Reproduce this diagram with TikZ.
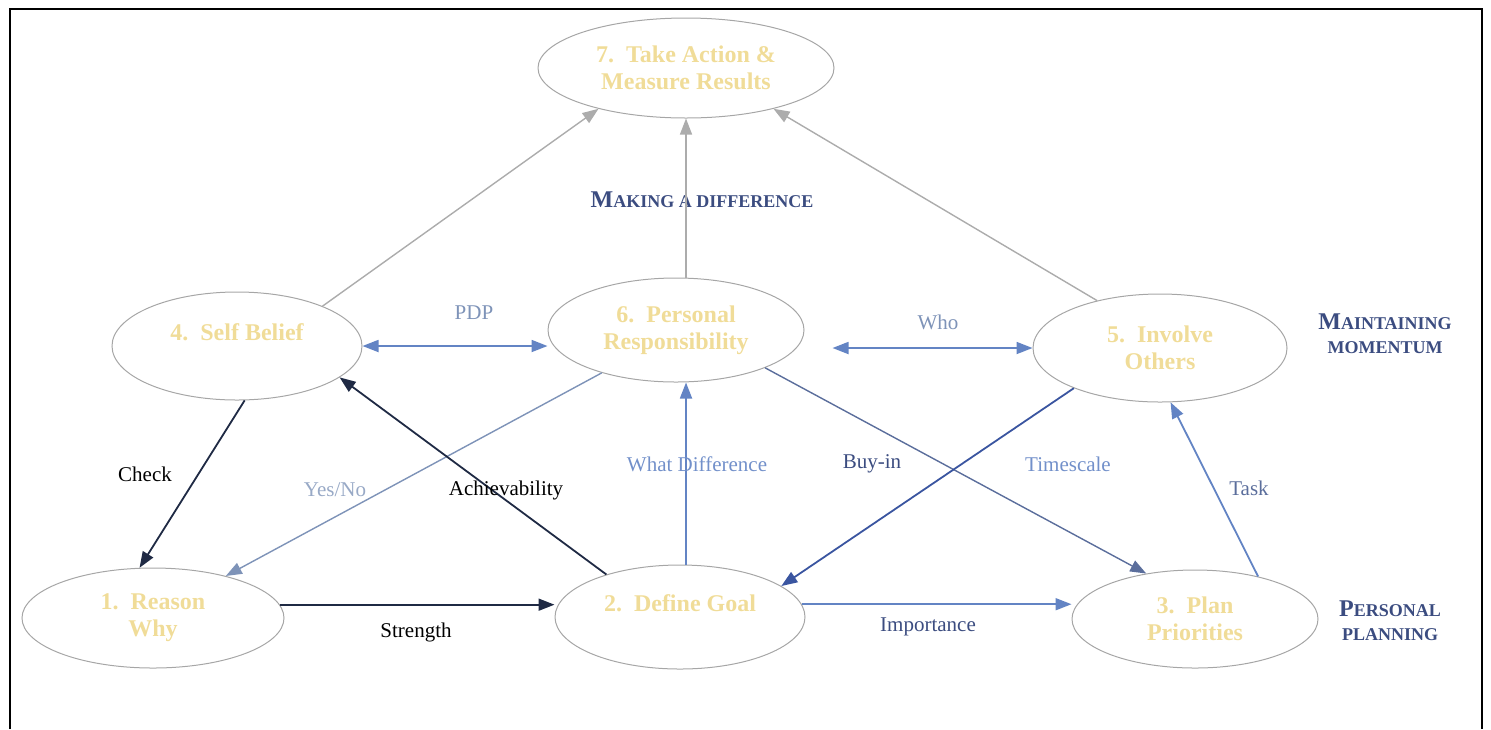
\documentclass[tikz,border=0pt]{standalone}
\usepackage{fontspec}
\setmainfont{Liberation Serif}
\usetikzlibrary{arrows.meta,shapes.geometric}

\definecolor{stagetext}{HTML}{F0DC98}
\definecolor{headblue}{HTML}{3B4C80}
\definecolor{lightblue}{HTML}{6384C4}
\definecolor{navy}{HTML}{1F2A44}
\definecolor{steel}{HTML}{7E93B8}
\definecolor{slate}{HTML}{5B6E9C}
\definecolor{midblue}{HTML}{3A55A0}
\newcommand{\capsword}[2]{{\fontsize{12}{14}\selectfont #1}{\fontsize{9}{14}\selectfont #2}}

\begin{document}
\begin{tikzpicture}[x=0.5pt, y=-0.5pt, >={Triangle[length=8pt,width=6pt]},
  stage/.style={ellipse, draw=gray!70, line width=0.5pt, inner sep=0pt, align=center,
    text=stagetext, font=\fontsize{12}{13.5}\selectfont\bfseries},
  lbl/.style={font=\fontsize{10.5}{12}\selectfont},
  head/.style={text=headblue, font=\bfseries, align=center},
  grayline/.style={->, draw=gray!65, fill=gray!65, line width=0.7pt},
  blueline/.style={draw=lightblue, fill=lightblue, line width=0.9pt}]
  \useasboundingbox (0,0) rectangle (1491,729);
  \draw[line width=1.2pt] (10,729) -- (10,9) -- (1482,9) -- (1482,729);

  % stages
  \node[stage, minimum width=148pt, minimum height=50pt] (act) at (686,68) {7.~~Take Action \&\\Measure Results};
  \node[stage, minimum width=125pt, minimum height=54pt] (belief) at (237,346) {4.~~Self Belief\\~};
  \node[stage, minimum width=128pt, minimum height=52pt] (resp) at (676,330) {6.~~Personal\\Responsibility};
  \node[stage, minimum width=127pt, minimum height=54pt] (others) at (1160,348) {5.~~Involve\\Others};
  \node[stage, minimum width=131pt, minimum height=50pt] (reason) at (153,618) {1.~~Reason\\Why};
  \node[stage, minimum width=125pt, minimum height=52pt] (goal) at (680,617) {2.~~Define Goal\\~};
  \node[stage, minimum width=123pt, minimum height=49pt] (plan) at (1195,619) {3.~~Plan\\Priorities};

  % headings
  \node[head] (hmake) at (702,200) {\capsword{M}{AKING A DIFFERENCE}};
  \node[head] (hmaint) at (1385,334) {\capsword{M}{AINTAINING}\\\capsword{}{MOMENTUM}};
  \node[head] (hpers) at (1390,621) {\capsword{P}{ERSONAL}\\\capsword{}{PLANNING}};

  % arrows
  \draw[grayline] (belief.25) -- (act.205);
  \draw[grayline] (resp.north -| act) -- (act.south);
  \draw[grayline] (others.143) -- (act.335);
  \draw[<->, blueline] (belief.east) -- (belief.east -| resp.west);
  \draw[<->, blueline, shorten <=14pt] (resp.east |- others.west) -- (others.west);
  \draw[->, draw=navy, fill=navy, line width=0.9pt] (belief.278) -- (reason.105);
  \draw[->, draw=steel, fill=steel, line width=0.7pt] (resp.210) -- (reason.30);
  \draw[->, draw=navy, fill=navy, line width=0.9pt] (goal.150) -- (belief.343);
  \draw[->, blueline] (goal.north -| act) -- (resp.south -| act);
  \draw[->, draw=slate, fill=slate, line width=0.7pt] (resp.337) -- (plan.137);
  \draw[->, draw=midblue, fill=midblue, line width=0.9pt] (others.205) -- (goal.17);
  \draw[->, blueline] (plan.34) -- (others.281);
  \draw[->, draw=navy, fill=navy, line width=0.9pt] (reason.6) -- (reason.6 -| goal.west);
  \draw[->, blueline] (goal.6) -- (goal.6 -| plan.west);

  % arrow labels
  \node[lbl, text=steel] (lpdp) at (474,313) {PDP};
  \node[lbl, text=steel] (lwho) at (938,322) {Who};
  \node[lbl] (lcheck) at (145,474) {Check};
  \node[lbl, text=steel!80] (lyesno) at (335,490) {Yes/No};
  \node[lbl] (lachieve) at (506,490) {Achievability};
  \node[lbl, text=lightblue!90] (lwhat) at (697,464) {What Difference};
  \node[lbl, text=headblue] (lbuyin) at (872,464) {Buy-in};
  \node[lbl, text=lightblue!90] (ltime) at (1068,464) {Timescale};
  \node[lbl, text=slate] (ltask) at (1249,488) {Task};
  \node[lbl] (lstrength) at (416,632) {Strength};
  \node[lbl, text=headblue] (limport) at (928,627) {Importance};
\end{tikzpicture}
\end{document}
